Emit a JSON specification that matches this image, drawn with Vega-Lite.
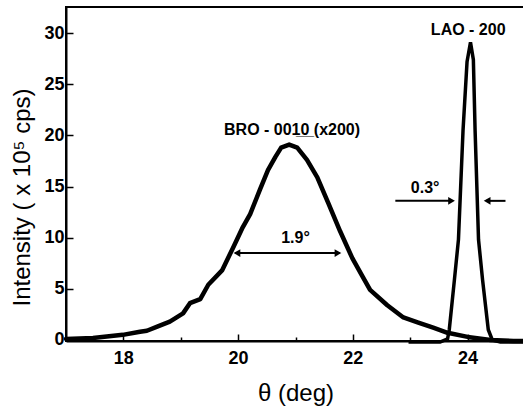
{
  "$schema": "https://vega.github.io/schema/vega-lite/v6.json",
  "width": 459,
  "height": 334,
  "autosize": {"type": "none"},
  "padding": {"left": 66, "top": 7, "right": 0, "bottom": 71},
  "background": "white",
  "config": {
    "view": {"stroke": "black", "strokeWidth": 2},
    "font": "Liberation Sans",
    "axis": {
      "grid": false,
      "domainColor": "black",
      "domainWidth": 2,
      "tickColor": "black",
      "tickWidth": 1.5,
      "tickSize": -7,
      "labelFont": "Liberation Sans",
      "labelFontWeight": "bold",
      "labelFontSize": 18,
      "labelColor": "black",
      "titleFont": "Liberation Sans",
      "titleFontWeight": "normal",
      "titleFontSize": 24,
      "titleColor": "black"
    }
  },
  "datasets": {
    "bro": [
      {"x": 17.0, "y": 0.1}, {"x": 17.47, "y": 0.2}, {"x": 17.99, "y": 0.5},
      {"x": 18.29, "y": 0.8}, {"x": 18.41, "y": 0.9}, {"x": 18.59, "y": 1.3},
      {"x": 18.81, "y": 1.8}, {"x": 19.04, "y": 2.6}, {"x": 19.16, "y": 3.6},
      {"x": 19.34, "y": 4.0}, {"x": 19.48, "y": 5.4}, {"x": 19.72, "y": 6.8},
      {"x": 19.91, "y": 9.0}, {"x": 20.07, "y": 10.9}, {"x": 20.21, "y": 12.3},
      {"x": 20.38, "y": 14.7}, {"x": 20.52, "y": 16.6}, {"x": 20.65, "y": 17.9},
      {"x": 20.75, "y": 18.8}, {"x": 20.89, "y": 19.1}, {"x": 21.03, "y": 18.8},
      {"x": 21.2, "y": 17.6}, {"x": 21.38, "y": 15.9}, {"x": 21.57, "y": 13.4},
      {"x": 21.78, "y": 10.6}, {"x": 21.99, "y": 8.0}, {"x": 22.16, "y": 6.3},
      {"x": 22.3, "y": 4.9}, {"x": 22.6, "y": 3.4}, {"x": 22.88, "y": 2.2},
      {"x": 23.14, "y": 1.7}, {"x": 23.4, "y": 1.2}, {"x": 23.65, "y": 0.7},
      {"x": 24.0, "y": 0.3}, {"x": 24.4, "y": 0.0}, {"x": 24.8, "y": -0.1},
      {"x": 25.0, "y": -0.1}
    ],
    "lao": [
      {"x": 22.97, "y": -0.2}, {"x": 23.52, "y": -0.2}, {"x": 23.65, "y": 0.1},
      {"x": 23.68, "y": 1.0}, {"x": 23.77, "y": 5.9}, {"x": 23.84, "y": 9.8},
      {"x": 23.92, "y": 20.5}, {"x": 23.99, "y": 27.2}, {"x": 24.05, "y": 29.1},
      {"x": 24.1, "y": 27.4}, {"x": 24.13, "y": 20.5}, {"x": 24.19, "y": 9.8},
      {"x": 24.26, "y": 5.9}, {"x": 24.36, "y": 1.0}, {"x": 24.43, "y": 0.0},
      {"x": 24.57, "y": -0.2}, {"x": 25.0, "y": -0.2}
    ],
    "arrows": [
      {"x": 19.95, "x2": 21.77, "y": 8.5},
      {"x": 22.74, "x2": 23.73, "y": 13.6},
      {"x": 24.33, "x2": 24.66, "y": 13.6}
    ],
    "heads": [
      {"x": 19.98, "y": 8.5, "dir": "left"},
      {"x": 21.74, "y": 8.5, "dir": "right"},
      {"x": 23.72, "y": 13.6, "dir": "right"},
      {"x": 24.34, "y": 13.6, "dir": "left"}
    ],
    "labels": [
      {"x": 24.01, "y": 29.8, "text": "LAO - 200"},
      {"x": 20.94, "y": 20.0, "text": "BRO - 001̲0̲ (x200)"},
      {"x": 21.0, "y": 9.5, "text": "1.9°"},
      {"x": 23.26, "y": 14.4, "text": "0.3°"}
    ]
  },
  "layer": [
    {
      "data": {"name": "bro"},
      "mark": {"type": "line", "color": "black", "strokeWidth": 4.5, "strokeJoin": "round", "strokeCap": "round"},
      "encoding": {
        "x": {
          "field": "x", "type": "quantitative",
          "scale": {"domain": [17, 25], "nice": false, "zero": false},
          "axis": {
            "title": "θ (deg)",
            "values": [18, 19, 20, 21, 22, 23, 24],
            "format": "d",
            "labelExpr": "datum.value % 2 === 0 ? datum.label : ''",
            "tickDash": {"condition": {"test": "datum.value % 2 !== 0", "value": [4, 20]}, "value": []},
            "labelPadding": 15,
            "titleY": 59,
            "titleBaseline": "alphabetic"
          }
        },
        "y": {
          "field": "y", "type": "quantitative",
          "scale": {"domain": [-0.1, 32.55], "nice": false, "zero": false},
          "axis": {
            "title": "Intensity ( x 10⁵ cps)",
            "values": [0, 2.5, 5, 7.5, 10, 12.5, 15, 17.5, 20, 22.5, 25, 27.5, 30],
            "labelExpr": "datum.value % 5 === 0 ? datum.label : ''",
            "tickDash": {"condition": {"test": "datum.value % 5 !== 0", "value": [4, 20]}, "value": []},
            "labelPadding": 9,
            "titleX": -44,
            "titleY": 190,
            "titleAngle": -90,
            "titleAlign": "center",
            "titleBaseline": "middle"
          }
        }
      }
    },
    {
      "data": {"name": "lao"},
      "mark": {"type": "line", "color": "black", "strokeWidth": 3.5, "strokeJoin": "miter"},
      "encoding": {
        "x": {"field": "x", "type": "quantitative"},
        "y": {"field": "y", "type": "quantitative"}
      }
    },
    {
      "data": {"name": "arrows"},
      "mark": {"type": "rule", "color": "black", "strokeWidth": 2},
      "encoding": {
        "x": {"field": "x", "type": "quantitative"},
        "x2": {"field": "x2"},
        "y": {"field": "y", "type": "quantitative"}
      }
    },
    {
      "data": {"name": "heads"},
      "mark": {"type": "point", "filled": true, "color": "black", "opacity": 1, "size": 60},
      "encoding": {
        "x": {"field": "x", "type": "quantitative"},
        "y": {"field": "y", "type": "quantitative"},
        "shape": {
          "field": "dir", "type": "nominal",
          "scale": {"domain": ["right", "left"], "range": ["triangle-right", "triangle-left"]},
          "legend": null
        }
      }
    },
    {
      "data": {"name": "labels"},
      "mark": {"type": "text", "font": "Liberation Sans", "fontWeight": "bold", "fontSize": 16, "color": "black", "align": "center", "baseline": "alphabetic"},
      "encoding": {
        "x": {"field": "x", "type": "quantitative"},
        "y": {"field": "y", "type": "quantitative"},
        "text": {"field": "text"}
      }
    }
  ]
}
